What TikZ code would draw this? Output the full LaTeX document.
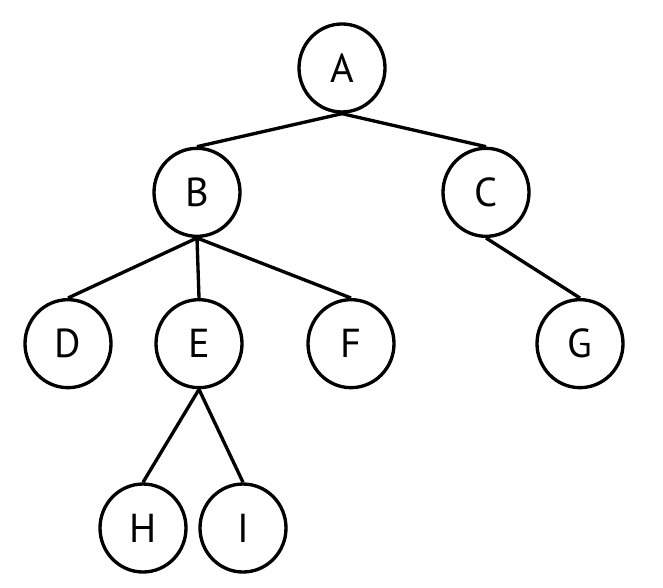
\documentclass[tikz,border=0pt]{standalone}
\usepackage{fontspec}
\setmainfont{PT Sans}
\usepackage{tikz}
\usetikzlibrary{positioning,shapes.geometric}

\begin{document}
\begin{tikzpicture}[line width=1.9pt]
\tikzstyle{vert}=[draw,ellipse,minimum width=1.72cm,minimum height=1.76cm,inner sep=0pt,font=\fontsize{23}{27}\selectfont]
\useasboundingbox (0,0) rectangle (13.26,11.76);
\node[vert] (A) at (6.84,10.4) {A};
\node[vert, below=0.66cm of A, xshift=-2.9cm] (B) {B};
\node[vert, below=0.66cm of A, xshift=2.88cm] (C) {C};
\node[vert, below=1.2cm of B, xshift=-2.58cm] (D) {D};
\node[vert, below=1.2cm of B, xshift=0.04cm] (E) {E};
\node[vert, below=1.2cm of B, xshift=3.08cm] (F) {F};
\node[vert, below=1.2cm of C, xshift=1.88cm] (G) {G};
\node[vert, below=1.86cm of E, xshift=-1.12cm] (H) {H};
\node[vert, below=1.86cm of E, xshift=0.88cm] (I) {I};
\draw (A.south)--(B.north); \draw (A.south)--(C.north);
\draw (B.south)--(D.north); \draw (B.south)--(E.north); \draw (B.south)--(F.north);
\draw (C.south)--(G.north);
\draw (E.south)--(H.north); \draw (E.south)--(I.north);
\end{tikzpicture}
\end{document}
